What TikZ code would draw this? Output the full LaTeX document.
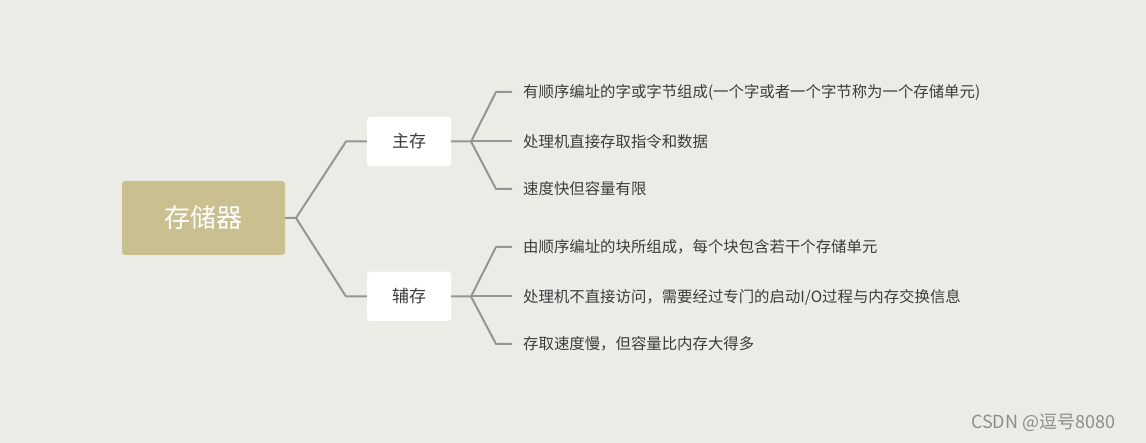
\documentclass[tikz,border=0pt]{standalone}
\usepackage{fontspec}
\setmainfont{Noto Sans CJK SC}
\definecolor{bgc}{HTML}{ECECE7}
\definecolor{rootc}{HTML}{C9BF8F}
\definecolor{linec}{HTML}{959595}
\definecolor{txtc}{HTML}{3C3C3C}
\tikzset{
  rootbox/.style={fill=rootc, rounded corners=3pt, minimum width=163pt, minimum height=74pt, inner sep=0pt, text=white, font=\fontsize{26}{26}\selectfont, text height=23pt, text depth=3pt},
  subbox/.style={fill=white, rounded corners=3pt, minimum width=84pt, minimum height=49pt, inner sep=0pt, text=txtc, font=\fontsize{17}{17}\selectfont, text height=15pt, text depth=2pt},
  leaf/.style={anchor=west, inner sep=0pt, text=txtc, font=\fontsize{15.4}{15.4}\selectfont, text height=13.6pt, text depth=1.8pt},
  conn/.style={draw=linec, line width=2pt, line join=round},
}
\begin{document}
\begin{tikzpicture}[x=1pt,y=-1pt]
\fill[bgc] (0,0) rectangle (1146,443);
\useasboundingbox (0,0) rectangle (1146,443);
\node[rootbox] (root) at (203.5,218) {存储器};
\node[subbox] (zhu) at (409,141.5) {主存};
\node[subbox] (fu) at (409,296.5) {辅存};
\coordinate (j0) at (296,218);
\coordinate (j1) at (471,141.5);
\coordinate (j2) at (471,296.5);
\node[leaf] (a1) at (523,92) {有顺序编址的字或字节组成(一个字或者一个字节称为一个存储单元)};
\node[leaf] (a2) at (523,141.5) {处理机直接存取指令和数据};
\node[leaf] (a3) at (523,189) {速度快但容量有限};
\node[leaf] (b1) at (523,247) {由顺序编址的块所组成，每个块包含若干个存储单元};
\node[leaf] (b2) at (523,296.5) {处理机不直接访问，需要经过专门的启动I/O过程与内存交换信息};
\node[leaf] (b3) at (523,344) {存取速度慢，但容量比内存大得多};
\draw[conn] (root.east) -- (j0) -- (346,141.5) -- (zhu.west);
\draw[conn] (j0) -- (346,296.5) -- (fu.west);
\draw[conn] (zhu.east) -- (j1) -- (496,92) -- ([xshift=-11pt]a1.west);
\draw[conn] (j1) -- ([xshift=-11pt]a2.west);
\draw[conn] (j1) -- (496,189) -- ([xshift=-11pt]a3.west);
\draw[conn] (fu.east) -- (j2) -- (496,247) -- ([xshift=-11pt]b1.west);
\draw[conn] (j2) -- ([xshift=-11pt]b2.west);
\draw[conn] (j2) -- (496,344) -- ([xshift=-11pt]b3.west);
\node[anchor=west, inner sep=0pt, text=black!45, font=\fontsize{18}{18}\selectfont] (wm) at (971,423) {CSDN @逗号8080};
\end{tikzpicture}
\end{document}
